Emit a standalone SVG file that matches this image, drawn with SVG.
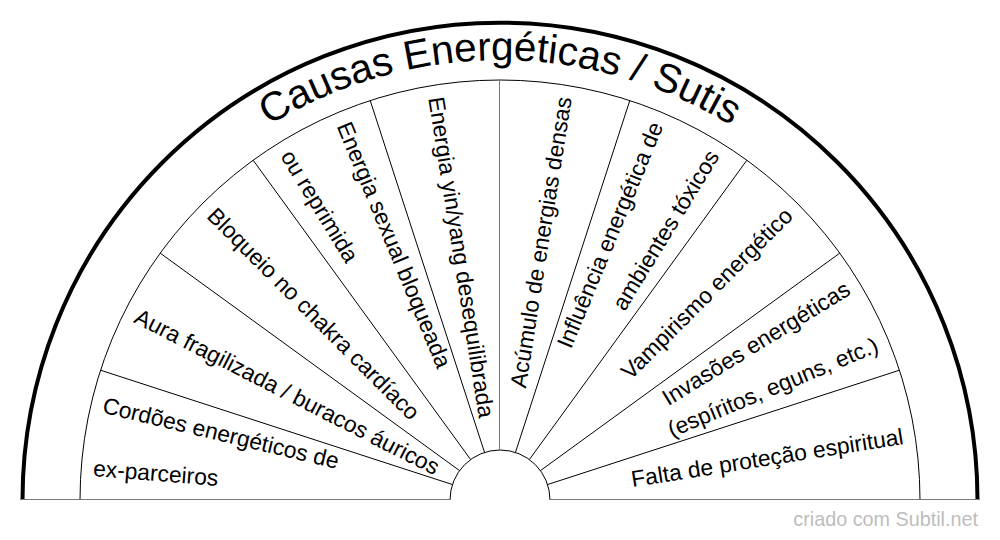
<svg xmlns="http://www.w3.org/2000/svg" width="1000" height="540" viewBox="0 0 1000 540">
<style>
.lbl{font-family:"Liberation Sans",Arial,sans-serif;font-size:22.8px;fill:#000;dominant-baseline:central}
.l{text-anchor:start}
.r{text-anchor:end}
.div{stroke:#000;stroke-width:1;fill:none}
.ax{stroke:#777;stroke-width:1;fill:none}
.title{font-family:"Liberation Sans",Arial,sans-serif;font-size:40.5px;fill:#000}
.foot{font-family:"Liberation Sans",Arial,sans-serif;font-size:19.8px;fill:#bdbdbd}
</style>
<defs>
<path id="titleArc" d="M 60 500 A 440 440 0 0 1 940 500"/>
</defs>
<rect width="1000" height="540" fill="#fff"/>
<g id="frame">
<path d="M 22.5 500 A 477.5 477.5 0 0 1 977.5 500" fill="none" stroke="#000" stroke-width="4"/>
<path d="M 80 500 A 420 420 0 0 1 920 500" class="div"/>
<path d="M 450 500 A 50 50 0 0 1 550 500" class="div"/>
<line x1="20" y1="499.5" x2="450" y2="499.5" class="ax"/>
<line x1="550" y1="499.5" x2="980" y2="499.5" class="ax"/>
</g>
<g id="connectors">
<line x1="452.45" y1="484.55" x2="100.56" y2="370.21" class="div" />
<line x1="459.55" y1="470.61" x2="160.22" y2="253.13" class="div" />
<line x1="470.61" y1="459.55" x2="253.13" y2="160.22" class="div" />
<line x1="484.55" y1="452.45" x2="370.21" y2="100.56" class="div" />
<line x1="499.5" y1="450" x2="499.5" y2="80" class="ax" />
<line x1="515.45" y1="452.45" x2="629.79" y2="100.56" class="div" />
<line x1="529.39" y1="459.55" x2="746.87" y2="160.22" class="div" />
<line x1="540.45" y1="470.61" x2="839.78" y2="253.13" class="div" />
<line x1="547.55" y1="484.55" x2="899.44" y2="370.21" class="div" />
</g>
<g id="title">
<text class="title"><textPath href="#titleArc" startOffset="50%" text-anchor="middle">Causas Energéticas / Sutis</textPath></text>
</g>
<g id="seg1">
<text class="lbl l" x="92" y="500" transform="rotate(13.5 500 500)">Cordões energéticos de</text>
<text class="lbl l" x="92" y="500" transform="rotate(4.5 500 500)">ex-parceiros</text>
</g>
<g id="seg2">
<text class="lbl l" x="92" y="500" transform="rotate(27 500 500)">Aura fragilizada / buracos áuricos</text>
</g>
<g id="seg3">
<text class="lbl l" x="92" y="500" transform="rotate(45 500 500)">Bloqueio no chakra cardíaco</text>
</g>
<g id="seg4">
<text class="lbl l" x="92" y="500" transform="rotate(67.5 500 500)">Energia sexual bloqueada</text>
<text class="lbl l" x="92" y="500" transform="rotate(58.5 500 500)">ou reprimida</text>
</g>
<g id="seg5">
<text class="lbl l" x="92" y="500" transform="rotate(81 500 500)">Energia yin/yang desequilibrada</text>
</g>
<g id="seg6">
<text class="lbl r" x="908" y="500" transform="rotate(-81 500 500)">Acúmulo de energias densas</text>
</g>
<g id="seg7">
<text class="lbl r" x="908" y="500" transform="rotate(-67.5 500 500)">Influência energética de</text>
<text class="lbl r" x="908" y="500" transform="rotate(-58.5 500 500)">ambientes tóxicos</text>
</g>
<g id="seg8">
<text class="lbl r" x="908" y="500" transform="rotate(-45 500 500)">Vampirismo energético</text>
</g>
<g id="seg9">
<text class="lbl r" x="908" y="500" transform="rotate(-31.5 500 500)">Invasões energéticas</text>
<text class="lbl r" x="908" y="500" transform="rotate(-22.5 500 500)">(espíritos, eguns, etc.)</text>
</g>
<g id="seg10">
<text class="lbl r" x="908" y="500" transform="rotate(-9 500 500)">Falta de proteção espiritual</text>
</g>
<g id="footer">
<text class="foot" x="978" y="526" text-anchor="end">criado com Subtil.net</text>
</g>
</svg>
